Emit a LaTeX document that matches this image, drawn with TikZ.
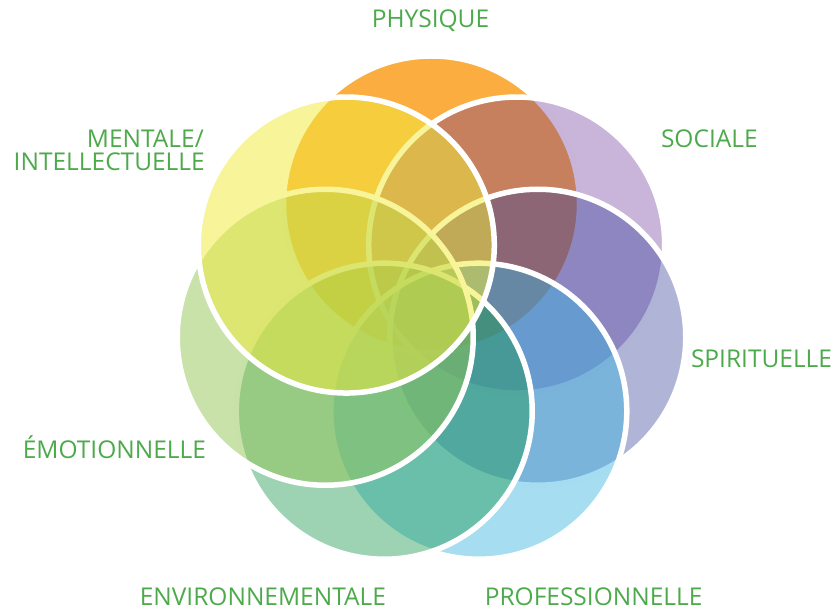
\documentclass[tikz,border=0pt]{standalone}
\usepackage{fontspec}
\setmainfont{Open Sans}
\usetikzlibrary{calc}

\definecolor{labelgreen}{HTML}{4DAA4B}
\definecolor{physiquecol}{HTML}{FBAE3F}
\definecolor{socialecol}{HTML}{693195}
\definecolor{spiritcol}{HTML}{2F3C98}
\definecolor{profcol}{HTML}{39B3E0}
\definecolor{envcol}{HTML}{1B994E}
\definecolor{emocol}{HTML}{93C555}
\definecolor{mentalecol}{HTML}{F0EA3D}

\begin{document}
\begin{tikzpicture}[
    x=1pt, y=1pt,
    petal/.style={circle, draw=white, line width=5.5pt, minimum size=296pt, inner sep=0pt},
    lbl/.style={font=\fontsize{24.5}{28}\selectfont, text=labelgreen, inner sep=0pt},
]
    \useasboundingbox (0,0) rectangle (836,611);
    \coordinate (c) at (431.5,298);
    % seven petals, clockwise from the top, each one over the last
    \foreach \name/\col/\op [count=\k from 0] in {physique/physiquecol/1, sociale/socialecol/0.36,
        spirituelle/spiritcol/0.38, professionnelle/profcol/0.45, environnementale/envcol/0.43,
        emotionnelle/emocol/0.5, mentale/mentalecol/0.52} {
        \node[petal, fill=\col, fill opacity=\op] (\name) at ($(c)+(90-\k*360/7:109)$) {};
    }
    % labels
    \node[lbl, anchor=base] (physique-l) at (430.5,583) {PHYSIQUE};
    \node[lbl, anchor=base west] (sociale-l) at (660.8,463) {SOCIALE};
    \node[lbl, anchor=base west] (spirituelle-l) at (690.8,243) {SPIRITUELLE};
    \node[lbl, anchor=base west] (professionnelle-l) at (484.6,5.5) {PROFESSIONNELLE};
    \node[lbl, anchor=base west] (environnementale-l) at (139.6,5.5) {ENVIRONNEMENTALE};
    \node[lbl, anchor=base west] (emotionnelle-l) at (22.6,152) {ÉMOTIONNELLE};
    \node[lbl, anchor=base east] (mentale-l) at (204,463) {MENTALE/};
    \node[lbl, anchor=base east] (intellectuelle-l) at (205,440) {INTELLECTUELLE};
\end{tikzpicture}
\end{document}
